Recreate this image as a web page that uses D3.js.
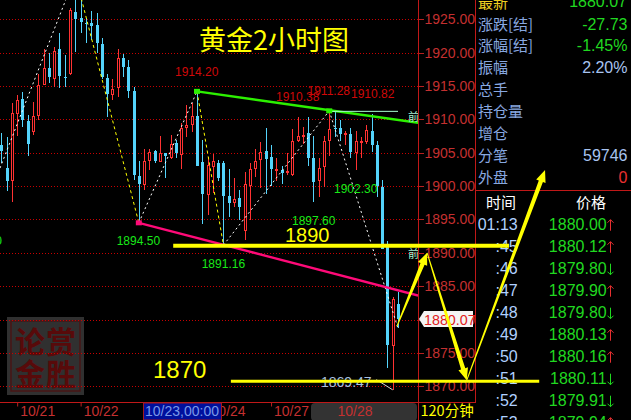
<!DOCTYPE html>
<html><head><meta charset="utf-8">
<script src="https://cdn.jsdelivr.net/npm/d3@7/dist/d3.min.js"></script>
<style>html,body{margin:0;padding:0;background:#000;overflow:hidden}svg{display:block}</style>
</head><body><svg id="c" width="631" height="420"></svg>
<script>
const opens=[1906.1,1902.7,1900.8,1911.0,1913.0,1909.8,1908.3,1910.7,1915.3,1917.7,1916.2,1920.5,1916.4,1916.9,1926.1,1925.2,1924.5,1924.5,1924.1,1921.3,1916.2,1913.7,1914.8,1919.2,1917.8,1914.2,1901.5,1900.3,1903.9,1905.2,1903.7,1904.9,1904.4,1906.4,1904.8,1908.8,1909.3,1910.5,1903.6,1898.8,1902.9,1903.4,1903.4,1898.5,1897.6,1898.2,1893.4,1900.2,1902.8,1904.0,1905.3,1904.4,1902.5,1902.4,1902.1,1901.7,1906.9,1907.5,1908.0,1904.2,1900.9,1902.9,1906.8,1908.7,1908.7,1907.8,1907.8,1905.1,1906.6,1906.8,1908.2,1906.1,1899.9,1891.4,1876.2,1882.3];
const closes=[1905.2,1900.8,1910.9,1912.9,1909.8,1906.3,1910.5,1915.2,1917.7,1916.3,1920.2,1916.5,1916.2,1926.4,1925.0,1924.6,1924.4,1924.1,1921.4,1916.4,1913.8,1914.5,1919.2,1917.8,1914.2,1901.6,1900.3,1903.7,1905.1,1903.7,1904.9,1904.4,1906.3,1904.9,1908.7,1909.1,1910.5,1903.0,1898.8,1903.2,1903.7,1901.2,1898.5,1897.4,1898.1,1896.9,1900.3,1902.6,1903.8,1905.1,1904.1,1902.6,1902.6,1901.9,1902.3,1906.7,1907.5,1907.6,1904.2,1900.6,1902.7,1906.7,1908.5,1908.5,1907.8,1907.9,1905.1,1906.7,1906.7,1908.4,1906.1,1899.9,1890.6,1876.2,1883.1,1880.07];
const highs=[1908.0,1907.3,1912.4,1913.6,1914.1,1910.6,1912.6,1916.8,1920.6,1919.9,1920.9,1923.0,1919.7,1926.7,1931.6,1929.4,1925.2,1926.3,1926.0,1922.2,1916.8,1916.0,1920.5,1919.8,1918.9,1914.8,1903.7,1905.5,1905.5,1905.4,1907.5,1905.0,1907.6,1906.9,1909.4,1912.1,1912.4,1914.2,1906.9,1904.4,1904.8,1903.9,1903.8,1902.5,1901.2,1899.4,1902.1,1903.4,1905.5,1906.6,1908.7,1906.1,1904.2,1903.0,1904.9,1908.5,1910.4,1908.9,1910.4,1907.5,1904.2,1907.5,1911.28,1911.1,1909.9,1908.2,1908.7,1908.2,1907.4,1909.1,1910.82,1906.7,1900.9,1891.8,1883.4,1884.2];
const lows=[1903.4,1899.3,1897.6,1907.5,1908.8,1904.5,1907.7,1909.9,1915.2,1915.4,1914.9,1914.7,1914.9,1916.7,1920.1,1923.0,1921.4,1921.9,1920.0,1916.1,1910.4,1912.9,1913.3,1916.3,1913.2,1900.9,1894.5,1899.4,1902.4,1903.4,1903.7,1901.2,1904.1,1904.2,1902.5,1907.3,1908.1,1903.0,1894.3,1895.7,1898.9,1900.8,1891.16,1895.4,1896.9,1894.9,1891.9,1894.9,1901.4,1899.7,1898.8,1900.0,1900.7,1900.3,1901.7,1901.5,1906.6,1906.3,1903.0,1897.6,1898.4,1899.9,1904.5,1907.4,1906.7,1906.2,1904.2,1902.4,1904.2,1906.3,1905.1,1898.4,1890.6,1872.7,1869.47,1878.7];

const priceTicks=[1925,1920,1915,1910,1905,1900,1895,1890,1885,1880,1875,1870];
const dateTickBars=[3,15,27,39,51,63,75];
const dateTickLabels=["10/21","10/22","10/23","10/24","10/27","10/28",""];
const zigBars=[-0.25,14,26,37,42,62,75];
const zigPrices=[1902.7,1931.6,1894.5,1914.2,1891.16,1911.28,1878.7];
const greenBars=[37,78.8], greenPrices=[1914.2,1909.5];
const pinkBars=[26,78.8], pinkPrices=[1894.5,1883.6];
const levelPrices=[1891.05,1870.75], levelFrom=[32.5,43.4], levelTo=[96,101.7];
const arrowBars=[74.8,80.5,88,102.8], arrowPrices=[1879.0,1890.0,1870.9,1902.4];
const redNotes=["1914.20","1910.38","1911.28","1910.82"];
const greenNotes=["1902.30","1897.60","1894.50","1891.16"];
const statLabels=["涨跌[结]","涨幅[结]","振幅","总手","持仓量","增仓","分笔","外盘"];
const statValues=["-27.73","-1.45%","2.20%","","","","59746","0"];
const tickTimes=["01:13",":45",":46",":47",":48",":49",":50",":51",":52",":53"];
const tickPrices=["1880.00","1880.12","1879.80","1879.90","1879.80","1880.13","1880.16","1880.11","1879.91","1879.94"];
const tickDirs=[1,1,-1,1,-1,1,1,-1,-1,1];

const svg=d3.select("#c");
const LAT="'Liberation Sans',Arial,sans-serif", CJK="'Noto Sans CJK SC',sans-serif";
const RED="#ff3232",BLUE="#54d4fc",AXIS="#b82020",AXTXT="#c43030",YEL="#ffff00";
const x=d3.scaleLinear().domain([0,75]).range([1.3,398]);
const y=d3.scaleLinear().domain([1925,1870]).range([19.3,386.3]);
svg.append("rect").attr("width",631).attr("height",420).attr("fill","#000");
svg.append("defs").append("clipPath").attr("id","plot").append("rect").attr("width",418).attr("height",402);
const T=(p,s,px,py,o={})=>p.append("text").text(s).attr("x",px).attr("y",py)
  .attr("fill",o.fill||"#fff").attr("font-size",o.size||14).attr("font-family",o.font||LAT)
  .attr("text-anchor",o.anchor||"start").attr("font-weight",o.weight||"normal");

// seal
const seal=svg.append("g");
seal.append("rect").attr("x",7).attr("y",317).attr("width",77).attr("height",78).attr("fill","#303030");
seal.append("rect").attr("x",11).attr("y",321).attr("width",69).attr("height",70).attr("fill","none").attr("stroke","#481414").attr("stroke-width",1.5);
[["论",15,353],["赏",46,353],["金",15,385],["胜",46,385]].forEach(c=>T(seal,c[0],c[1],c[2],{fill:"#580a0a",size:30,font:CJK,weight:"bold"}));

// price axis + grid
const yAxis=d3.axisRight(y).tickValues(priceTicks).tickFormat(d3.format(".2f")).tickSize(5).tickPadding(1);
const ya=svg.append("g").attr("transform","translate(418.5,0)").call(yAxis);
ya.select(".domain").remove();
ya.selectAll("line").attr("stroke",AXIS).attr("shape-rendering","crispEdges");
ya.selectAll("text").attr("fill",AXTXT).attr("font-size",14).attr("font-family",LAT);
svg.append("g").selectAll("line").data(priceTicks).join("line")
  .attr("x1",0).attr("x2",418).attr("y1",d=>Math.round(y(d))+.5).attr("y2",d=>Math.round(y(d))+.5)
  .attr("stroke","#c80000").attr("stroke-dasharray","1 2").attr("shape-rendering","crispEdges");

const plot=svg.append("g").attr("clip-path","url(#plot)");
// candles
const bars=d3.range(opens.length);
const cx=i=>Math.round(x(i));
const isUp=i=>closes[i]>opens[i];
const cg=plot.append("g").attr("shape-rendering","crispEdges");
cg.selectAll("line").data(bars).join("line")
  .attr("x1",i=>cx(i)+.5).attr("x2",i=>cx(i)+.5).attr("y1",i=>y(highs[i])).attr("y2",i=>y(lows[i]))
  .attr("stroke",i=>isUp(i)?RED:BLUE);
cg.selectAll("rect").data(bars).join("rect")
  .attr("x",i=>isUp(i)?cx(i)-.5:cx(i)-1)
  .attr("width",i=>isUp(i)?2:3)
  .attr("y",i=>Math.round(y(Math.max(opens[i],closes[i])))+(isUp(i)?.5:0))
  .attr("height",i=>Math.max(1,Math.round(Math.abs(y(opens[i])-y(closes[i])))))
  .attr("fill",i=>isUp(i)?"#000":BLUE).attr("stroke",i=>isUp(i)?RED:"none").attr("stroke-width",1);

// zigzag
const zg=plot.append("g");
d3.pairs(d3.range(zigBars.length)).forEach(([a,b])=>{
  const down=zigPrices[b]<zigPrices[a] && b<zigBars.length-1;
  zg.append("line").attr("x1",x(zigBars[a])).attr("y1",y(zigPrices[a])).attr("x2",x(zigBars[b])).attr("y2",y(zigPrices[b]))
    .attr("stroke",down?YEL:"#fff").attr("stroke-width",1).attr("stroke-dasharray",down?"3 3":"2 3");
});
// trend lines
const tl=(bs,ps,c)=>plot.append("line").attr("x1",x(bs[0])).attr("y1",y(ps[0])).attr("x2",x(bs[1])).attr("y2",y(ps[1])).attr("stroke",c).attr("stroke-width",2.4);
tl(greenBars,greenPrices,"#2cf000");
tl(pinkBars,pinkPrices,"#ff0a78");
plot.append("line").attr("x1",x(62)).attr("x2",x(75)).attr("y1",y(1911.28)+.5).attr("y2",y(1911.28)+.5).attr("stroke","#a8ffd0");
const sq=(i,p,c)=>plot.append("rect").attr("x",x(i)-3).attr("y",y(p)-2.5).attr("width",6).attr("height",5).attr("fill",c);
sq(37,1914.2,"#2cf000");sq(62,1911.28,"#2cf000");sq(26,1894.5,"#ff0a78");
plot.append("line").attr("x1",x(70.9)).attr("y1",y(1871.0)).attr("x2",x(74)).attr("y2",y(1869.47)).attr("stroke","#d8d8d8");

// notes
[[175,75.5],[276,101],[307.5,94.7],[351,97.7]].forEach((p,i)=>T(svg,redNotes[i],p[0],p[1],{fill:"#d00808",size:12}));
[[334,193],[292,225],[116.7,245],[201.7,268]].forEach((p,i)=>T(svg,greenNotes[i],p[0],p[1],{fill:"#18e818",size:12}));
T(svg,"0",2,245,{fill:"#18e818",size:12,anchor:"end"});
T(svg,"1869.47",321,386.6,{fill:"#a8c0e0",size:14});
const clipNote=svg.append("g").attr("clip-path","url(#plot)");
T(clipNote,"前",408,121,{fill:"#a8f0d0",size:11,font:CJK});
T(clipNote,"前",408,258,{fill:"#a8f0d0",size:11,font:CJK});

// frame
const fr=svg.append("g").attr("stroke","#c01818").attr("shape-rendering","crispEdges");
fr.append("line").attr("x1",418.5).attr("x2",418.5).attr("y1",0).attr("y2",420);
fr.append("line").attr("x1",475.5).attr("x2",475.5).attr("y1",0).attr("y2",402);
fr.append("line").attr("x1",0).attr("x2",476).attr("y1",402.5).attr("y2",402.5);
fr.append("line").attr("x1",476).attr("x2",631).attr("y1",190.5).attr("y2",190.5);

// date axis
const dateAxis=d3.axisBottom(x).tickValues(dateTickBars).tickFormat("").tickSize(4);
const xa=svg.append("g").attr("transform","translate(0,402.5)").call(dateAxis);
xa.select(".domain").remove();
xa.selectAll("line").attr("stroke",AXIS);
dateTickBars.forEach((b,i)=>{ if(dateTickLabels[i]&&i!==2&&i!==5) T(svg,dateTickLabels[i],x(b)+3,415.5,{fill:AXTXT,size:14}); });
svg.append("rect").attr("x",143.5).attr("y",403).attr("width",78).attr("height",17).attr("fill","#00109c").attr("stroke","#a01820");
T(svg,"10/23,00:00",145,415.5,{fill:"#7a98e8",size:14});
svg.append("rect").attr("x",311).attr("y",403).attr("width",106).attr("height",18).attr("rx",4).attr("fill","#333");
T(svg,"10/28",x(63)+3,415.5,{fill:AXTXT,size:14});
T(svg,"120分钟",420.5,415.5,{fill:YEL,size:14.5,font:CJK});

// price tag
svg.append("path").attr("d","M419,319 L424,311 H473 V327 H424 Z").attr("fill","#f4f4f4");
T(svg,"1880.07",424,324.5,{fill:"#e02020",size:14.3});

// stats panel
T(svg,"最新",478,8,{fill:"#f0d020",size:15,font:CJK});
T(svg,"1880.07",627,7,{fill:"#20d820",size:16,anchor:"end"});
statLabels.forEach((s,i)=>{
  const py=29.5+i*21.9;
  T(svg,s,478,py,{fill:"#88a8e0",size:15,font:CJK});
  if(statValues[i]) T(svg,statValues[i],627.5,py,{fill:i<2?"#20d820":(i===7?"#e83030":"#a8c4f0"),size:16,anchor:"end"});
});
T(svg,"时间",486,208,{size:15,font:CJK});
T(svg,"价格",576,208,{size:15,font:CJK});
tickTimes.forEach((s,i)=>{
  const py=229.7+i*22;
  T(svg,s,517.7,py,{fill:"#b0d0ff",size:16,anchor:"end"});
  T(svg,tickPrices[i],606.7,py,{fill:"#20d820",size:16,anchor:"end"});
  const up=tickDirs[i]>0,c=up?"#e83030":"#20d820",ax=610.5;
  const a=svg.append("path").attr("fill","none").attr("stroke",c).attr("stroke-width",1);
  a.attr("d",up?`M${ax},${py+1}V${py-10}M${ax-3},${py-7}L${ax},${py-10}L${ax+3},${py-7}`:`M${ax},${py-10}V${py+1}M${ax-3},${py-2}L${ax},${py+1}L${ax+3},${py-2}`);
});

// yellow levels
levelPrices.forEach((p,i)=>svg.append("line").attr("x1",x(levelFrom[i])).attr("x2",x(levelTo[i])).attr("y1",y(p)).attr("y2",y(p)).attr("stroke",YEL).attr("stroke-width",i?3:4));
T(svg,"1890",285,241.7,{fill:YEL,size:20});
T(svg,"1870",153,378,{fill:YEL,size:24});
T(svg,"黄金2小时图",199,50,{fill:YEL,size:27,font:CJK});

// tapered arrows
function arrow(a,b){
  const x0=x(arrowBars[a]),y0=y(arrowPrices[a]),x1=x(arrowBars[b]),y1=y(arrowPrices[b]);
  const L=Math.hypot(x1-x0,y1-y0),ux=(x1-x0)/L,uy=(y1-y0)/L,nx=-uy,ny=ux,hl=12,w0=.5,w1=2.2,hw=5;
  const bx=x1-ux*hl,by=y1-uy*hl;
  const pts=[[x0+nx*w0,y0+ny*w0],[bx+nx*w1,by+ny*w1],[bx+nx*hw,by+ny*hw],[x1,y1],[bx-nx*hw,by-ny*hw],[bx-nx*w1,by-ny*w1],[x0-nx*w0,y0-ny*w0]];
  svg.append("path").attr("d",d3.line()(pts)+"Z").attr("fill",YEL);
}
arrow(0,1);arrow(1,2);arrow(2,3);
</script></body></html>
